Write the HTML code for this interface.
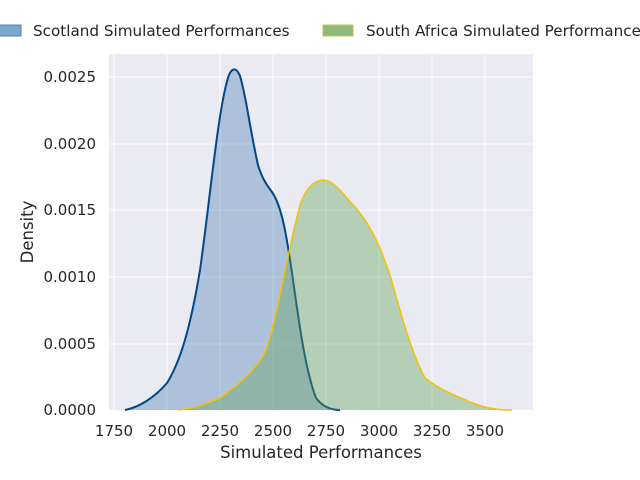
<!DOCTYPE html>
<html><head><style>body{margin:0;background:#fff}svg{display:block}</style></head><body>
<svg width="640" height="480" xmlns="http://www.w3.org/2000/svg" font-family="DejaVu Sans, Liberation Sans, sans-serif">
<rect x="109" y="54" width="424" height="356" fill="#eaeaf2"/>
<g stroke="#fff" stroke-width="1">
<line x1="114" y1="54" x2="114" y2="410"/><line x1="167" y1="54" x2="167" y2="410"/><line x1="220" y1="54" x2="220" y2="410"/><line x1="273" y1="54" x2="273" y2="410"/><line x1="326" y1="54" x2="326" y2="410"/><line x1="379" y1="54" x2="379" y2="410"/><line x1="432" y1="54" x2="432" y2="410"/><line x1="485" y1="54" x2="485" y2="410"/>
<line x1="109" y1="77" x2="533" y2="77"/><line x1="109" y1="144" x2="533" y2="144"/><line x1="109" y1="210" x2="533" y2="210"/><line x1="109" y1="277" x2="533" y2="277"/><line x1="109" y1="344" x2="533" y2="344"/>
</g>
<path d="M125,410 C140,407 155,397 167,383 C180,362 190,330 200,270 C210,200 218,110 228,78 C231,68 236,66 240,76 C246,95 250,130 258,165 C262,178 266,184 272,192 C281,205 286,230 293,280 C300,330 306,372 316,398 C322,406 330,410 340,410 Z" fill="#4c7fb5" fill-opacity="0.38"/>
<path d="M125,410 C140,407 155,397 167,383 C180,362 190,330 200,270 C210,200 218,110 228,78 C231,68 236,66 240,76 C246,95 250,130 258,165 C262,178 266,184 272,192 C281,205 286,230 293,280 C300,330 306,372 316,398 C322,406 330,410 340,410" fill="none" stroke="#00478a" stroke-width="2"/>
<path d="M178,410 C195,409 205,404 220,398 C235,387 250,375 262,358 C275,335 283,270 300,205 C306,188 314,180 324,180 C335,181 345,197 355,207 C368,222 378,240 390,275 C400,310 410,350 425,378 C440,390 455,395 470,402 C485,408 495,410 512,410 Z" fill="#5fa055" fill-opacity="0.38"/>
<path d="M178,410 C195,409 205,404 220,398 C235,387 250,375 262,358 C275,335 283,270 300,205 C306,188 314,180 324,180 C335,181 345,197 355,207 C368,222 378,240 390,275 C400,310 410,350 425,378 C440,390 455,395 470,402 C485,408 495,410 512,410" fill="none" stroke="#f2c200" stroke-width="1.5"/>
<g font-size="15" fill="#262626" text-anchor="middle">
<text x="114" y="436">1750</text><text x="167" y="436">2000</text><text x="220" y="436">2250</text><text x="273" y="436">2500</text><text x="326" y="436">2750</text><text x="379" y="436">3000</text><text x="432" y="436">3250</text><text x="485" y="436">3500</text>
</g>
<g font-size="15" fill="#262626" text-anchor="end">
<text x="96" y="415">0.0000</text><text x="96" y="349">0.0005</text><text x="96" y="282">0.0010</text><text x="96" y="215">0.0015</text><text x="96" y="149">0.0020</text><text x="96" y="82">0.0025</text>
</g>
<text x="321" y="458" font-size="16.5" fill="#262626" text-anchor="middle">Simulated Performances</text>
<text x="33" y="232" font-size="16.5" fill="#262626" text-anchor="middle" transform="rotate(-90 33 232)">Density</text>
<rect x="-8" y="25" width="29" height="11" fill="#7da7c9" stroke="#4c7fb5"/>
<text x="33" y="36" font-size="15.2" fill="#262626">Scotland Simulated Performances</text>
<rect x="323" y="25" width="30" height="11" fill="#8fb87b" stroke="#c9c040"/>
<text x="366" y="36" font-size="15.2" fill="#262626">South Africa Simulated Performances</text>
</svg>
</body></html>
